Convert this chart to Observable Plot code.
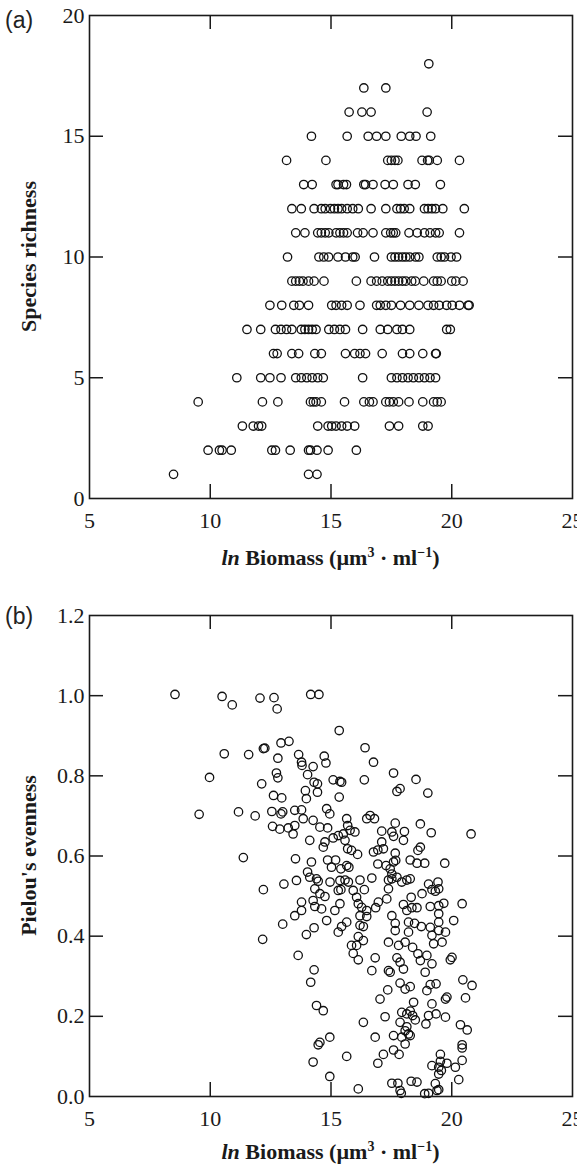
<!DOCTYPE html>
<html><head><meta charset="utf-8">
<script src="https://cdn.jsdelivr.net/npm/d3@7"></script>
<script src="https://cdn.jsdelivr.net/npm/@observablehq/plot@0.6"></script>
<style>
body{margin:0;background:#fff;}
#chart{width:577px;}
#chart svg{display:block;}
#chart svg text{font-family:'Liberation Serif','Times New Roman',Times,serif;}
#chart svg text.tag{font-family:'Liberation Sans',Arial,sans-serif;}
</style></head><body><div id="chart"></div>
<script>
// ---- ticks ----
const xTicks = [5, 10, 15, 20, 25];
const innerXTicks = [10, 15, 20];
const richnessTicks = [0, 5, 10, 15, 20];
const innerRichnessTicks = [5, 10, 15];
const evennessTicks = [0, 0.2, 0.4, 0.6, 0.8, 1.0, 1.2];
const innerEvennessTicks = [0.2, 0.4, 0.6, 0.8, 1.0];

// ---- panel (a): species richness vs ln biomass ----
const richnessRows = [
  {richness: 18, biomass: [19.05]},
  {richness: 17, biomass: [16.36, 17.27]},
  {richness: 16, biomass: [15.75, 16.28, 16.66, 18.98]},
  {richness: 15, biomass: [14.19, 15.67, 16.54, 16.89, 17.27, 17.91, 18.26, 18.52, 19.13]},
  {richness: 14, biomass: [13.16, 14.79, 17.35, 17.5, 17.65, 17.77, 18.77, 19.0, 19.07, 19.4, 20.32]},
  {richness: 13, biomass: [13.87, 14.22, 15.21, 15.29, 15.52, 15.64, 16.36, 16.43, 16.74, 17.24, 17.58, 18.19, 18.49, 19.53]},
  {richness: 12, biomass: [13.38, 13.77, 14.3, 14.6, 14.76, 14.98, 15.14, 15.29, 15.44, 15.67, 15.9, 16.13, 16.66, 17.27, 17.73, 17.88, 18.03, 18.26, 18.87, 19.02, 19.18, 19.33, 19.63, 20.52]},
  {richness: 11, biomass: [13.54, 13.92, 14.45, 14.6, 14.76, 14.91, 15.21, 15.37, 15.52, 15.67, 16.1, 16.33, 16.74, 17.27, 17.47, 17.58, 17.68, 18.23, 18.57, 18.87, 19.1, 19.33, 19.48, 20.32]},
  {richness: 10, biomass: [13.2, 14.5, 14.7, 14.9, 15.29, 15.6, 15.9, 16.0, 16.8, 17.5, 17.65, 17.8, 17.96, 18.1, 18.26, 18.5, 18.64, 19.4, 19.56, 19.7, 19.97, 20.2]},
  {richness: 9, biomass: [13.38, 13.54, 13.69, 13.84, 14.07, 14.3, 14.71, 16.05, 16.66, 16.89, 17.12, 17.35, 17.5, 17.65, 17.8, 17.96, 18.1, 18.34, 18.49, 18.84, 19.25, 19.4, 19.56, 20.0, 20.17, 20.47]},
  {richness: 8, biomass: [12.47, 12.96, 13.46, 13.69, 14.07, 15.03, 15.21, 15.44, 15.67, 16.2, 16.89, 17.04, 17.27, 17.5, 17.88, 18.26, 18.64, 19.02, 19.25, 19.48, 19.79, 20.02, 20.32, 20.68, 20.72]},
  {richness: 7, biomass: [11.52, 12.09, 12.7, 12.93, 13.16, 13.38, 13.77, 13.92, 14.07, 14.22, 14.38, 14.91, 15.14, 15.37, 15.6, 16.31, 17.04, 17.35, 17.73, 17.96, 18.26, 19.79, 19.94]},
  {richness: 6, biomass: [12.62, 12.77, 13.38, 13.66, 14.33, 14.6, 15.6, 15.98, 16.2, 16.43, 17.12, 17.96, 18.26, 18.8, 19.33, 19.36]},
  {richness: 5, biomass: [11.1, 12.09, 12.47, 12.93, 13.54, 13.77, 14.0, 14.22, 14.45, 14.68, 16.31, 17.5, 17.73, 17.96, 18.19, 18.41, 18.64, 18.87, 19.1, 19.33]},
  {richness: 4, biomass: [9.5, 12.16, 12.8, 14.15, 14.27, 14.38, 14.6, 15.56, 16.36, 16.59, 16.74, 17.27, 17.42, 17.58, 17.8, 18.23, 18.8, 19.25, 19.4, 19.56]},
  {richness: 3, biomass: [11.33, 11.78, 12.0, 12.13, 14.45, 14.88, 15.03, 15.21, 15.44, 15.67, 15.98, 17.42, 17.8, 18.8, 19.02]},
  {richness: 2, biomass: [9.91, 10.38, 10.49, 10.87, 12.55, 12.7, 13.31, 14.07, 14.15, 14.42, 14.88, 16.05]},
  {richness: 1, biomass: [8.48, 14.07, 14.42]}
];

// ---- panel (b): Pielou's evenness vs ln biomass, [biomass, evenness] ----
const evennessPoints = [
  [8.54,1.003],[10.49,0.998],[10.91,0.977],[12.06,0.994],[12.64,0.995],[12.77,0.967],[13.26,0.886],[12.93,0.882],
  [12.2,0.868],[12.26,0.869],[10.58,0.855],[11.59,0.853],[12.8,0.844],[9.97,0.796],[12.74,0.807],[12.8,0.795],
  [12.13,0.78],[12.62,0.751],[12.96,0.745],[9.54,0.704],[11.17,0.71],[11.86,0.7],[12.55,0.711],[13.0,0.71],
  [12.93,0.705],[12.58,0.674],[12.88,0.667],[13.23,0.67],
  [11.37,0.596],[12.2,0.516],[12.17,0.392],[13.05,0.53],[13.0,0.43],
  [14.16,1.003],[14.5,1.003],[15.34,0.913],[13.66,0.853],[13.78,0.834],[13.8,0.826],[14.26,0.823],[14.72,0.849],
  [14.79,0.832],[16.41,0.87],[16.76,0.834],[14.03,0.803],[14.3,0.784],[14.44,0.78],[15.09,0.79],[15.37,0.786],
  [15.44,0.784],[16.38,0.79],[17.59,0.807],[18.52,0.791],[17.73,0.761],[17.86,0.768],[19.01,0.757],[13.94,0.763],
  [13.98,0.743],[14.44,0.759],[15.34,0.747],
  [13.5,0.714],[13.78,0.715],[14.82,0.718],[14.95,0.705],[15.65,0.693],[16.48,0.693],[16.62,0.701],[16.8,0.693],
  [17.66,0.682],[18.7,0.68],[19.15,0.658],[20.8,0.655],[13.5,0.676],[13.85,0.693],[14.26,0.689],[14.54,0.672],
  [14.86,0.67],[15.69,0.676],[15.79,0.664],[15.99,0.66],[17.1,0.662],[17.52,0.66],[17.59,0.649],[18.04,0.661],
  [18.0,0.639],[13.43,0.655],[14.12,0.639],[14.75,0.635],[14.68,0.622],[15.09,0.645],[15.3,0.651],[15.51,0.655],
  [15.58,0.639],[15.69,0.618],[15.85,0.614],[16.1,0.604],[16.76,0.61],[16.94,0.615],[17.1,0.635],[17.17,0.618],
  [17.66,0.607],[18.6,0.614],[18.7,0.622],[18.28,0.59],[18.56,0.582],[18.88,0.582],[19.71,0.582],[13.53,0.593],
  [14.19,0.585],[14.86,0.59],[15.19,0.59],[15.02,0.572],[15.41,0.568],[15.65,0.576],[15.74,0.572],[16.94,0.58],
  [17.28,0.576],[17.45,0.568],[17.52,0.555],[17.59,0.585],[17.68,0.589],[17.73,0.547],[13.57,0.539],[14.03,0.56],
  [14.12,0.547],[14.4,0.543],[14.47,0.537],[14.96,0.535],[15.37,0.539],[15.58,0.54],[15.72,0.535],[16.2,0.54],
  [16.69,0.545],[16.38,0.516],[17.38,0.54],[17.52,0.543],[17.93,0.535],[18.14,0.54],[18.28,0.543],[19.04,0.53],
  [19.43,0.535],[19.18,0.516],[19.32,0.512],[19.46,0.518],[18.77,0.506],[18.32,0.497],[17.38,0.518],[17.31,0.493],
  [16.96,0.485],[14.33,0.518],[14.54,0.506],[14.75,0.499],[15.3,0.514],[15.41,0.516],[15.92,0.514],[16.06,0.497],
  [16.13,0.481],[16.27,0.472],[16.48,0.464],[13.78,0.485],[13.78,0.464],[14.26,0.489],[14.33,0.474],[14.61,0.468],
  [15.16,0.464],[15.37,0.481],[16.2,0.451],[16.48,0.449],[16.85,0.471],[17.52,0.451],[18.0,0.479],[18.14,0.464],
  [18.35,0.471],[18.56,0.471],[19.11,0.474],[19.46,0.476],[19.67,0.482],[20.43,0.481],[19.46,0.456],[13.5,0.451],
  [13.64,0.352],[13.98,0.404],[14.3,0.421],[14.3,0.316],[14.16,0.285],[14.82,0.439],[15.3,0.41],[15.44,0.424],
  [15.65,0.435],[15.85,0.377],[15.92,0.357],[16.06,0.377],[16.13,0.399],[16.2,0.427],[16.34,0.424],[16.34,0.389],
  [16.13,0.341],[16.69,0.314],[16.83,0.346],[17.38,0.385],[17.66,0.414],[17.66,0.432],[17.8,0.377],[18.07,0.385],
  [18.21,0.41],[18.21,0.435],[18.38,0.372],[18.46,0.432],[18.6,0.356],[18.7,0.339],[18.74,0.424],[18.97,0.352],
  [19.11,0.422],[19.18,0.402],[19.18,0.331],[19.25,0.381],[19.46,0.414],[19.46,0.435],[19.6,0.385],[19.74,0.41],
  [19.94,0.341],[20.01,0.347],[20.08,0.439],[18.9,0.31],[17.38,0.314],[17.45,0.31],[17.73,0.346],[17.86,0.335],
  [18.0,0.318],[17.86,0.283],[18.07,0.268],[18.28,0.274],[17.35,0.266],[17.03,0.243],[18.97,0.264],[19.11,0.279],
  [19.35,0.281],[20.46,0.291],[20.84,0.277],[20.57,0.246],[19.74,0.243],[19.8,0.248],[19.18,0.231],[18.42,0.235],
  [17.93,0.21],[18.14,0.206],[18.28,0.213],[18.38,0.202],[18.49,0.191],[19.04,0.202],[19.35,0.206],[19.74,0.198],
  [17.24,0.199],[16.34,0.185],[17.86,0.185],[18.14,0.174],[18.07,0.164],[18.21,0.156],[18.28,0.152],[17.93,0.148],
  [17.59,0.152],[16.83,0.148],[18.93,0.181],[20.36,0.179],[20.64,0.166],[14.4,0.227],[14.68,0.214],[14.95,0.148],
  [14.54,0.135],[14.47,0.129],[20.43,0.129],
  [14.26,0.086],[15.65,0.1],[14.95,0.05],[16.13,0.019],[16.94,0.083],[17.17,0.105],[17.59,0.116],[17.82,0.105],
  [18.07,0.131],[17.52,0.033],[17.77,0.033],[17.86,0.015],[17.91,0.008],[18.32,0.038],[18.56,0.036],[18.88,0.007],
  [19.04,0.008],[19.32,0.032],[19.46,0.017],[19.39,0.015],[19.18,0.077],[19.53,0.105],[19.53,0.088],[19.46,0.073],
  [19.57,0.065],[19.46,0.056],[19.8,0.083],[20.15,0.073],[20.43,0.09],[20.29,0.042],[20.43,0.121]
];

const W = 577;
const INK = "#1a1a1a";
const SERIF = "'Liberation Serif','Times New Roman',Times,serif";

function buildPanel(o) {
  const ml = 89, mr = 5;
  const plotW = W - ml - mr, plotH = o.h - o.mt - o.mb;
  const tl = 14;
  const svg = Plot.plot({
    width: W, height: o.h,
    marginLeft: ml, marginRight: mr, marginTop: o.mt, marginBottom: o.mb,
    style: {fontSize: "22px", color: INK, background: "white", overflow: "visible"},
    x: {domain: [5, 25]},
    y: {domain: o.yDomain},
    marks: [
      Plot.dot(o.points, {x: "b", y: "v", r: 4.2, stroke: "#111", strokeWidth: 1.3, fill: "none"}),
      Plot.tickX(innerXTicks, {x: d => d, insetTop: plotH - tl, stroke: INK, strokeWidth: 1.5}),
      Plot.tickX(innerXTicks, {x: d => d, insetBottom: plotH - tl, stroke: INK, strokeWidth: 1.5}),
      Plot.tickY(o.yInner, {y: d => d, insetRight: plotW - tl, stroke: INK, strokeWidth: 1.5}),
      Plot.tickY(o.yInner, {y: d => d, insetLeft: plotW - tl, stroke: INK, strokeWidth: 1.5}),
      Plot.frame({stroke: INK, strokeWidth: 1.6}),
      Plot.axisX(xTicks, {tickSize: 0, tickPadding: 14, label: null, fill: INK, fontSize: 22}),
      Plot.axisY(o.yTicks, {tickSize: 0, tickPadding: 5, tickFormat: o.yFormat, label: null, fill: INK, fontSize: 22})
    ]
  });
  const s = d3.select(svg);
  // force serif on all axis texts
  s.selectAll("text").style("font-family", SERIF).style("font-variant", "normal");
  // x axis title
  const xt = s.append("text")
    .attr("x", ml + plotW / 2).attr("y", o.titleY)
    .attr("text-anchor", "middle").attr("font-weight", "bold")
    .attr("font-size", 22).style("font-family", SERIF).attr("fill", INK);
  xt.append("tspan").attr("font-style", "italic").text("ln");
  xt.append("tspan").text(" Biomass (µm");
  xt.append("tspan").attr("font-size", 14).attr("dy", -8).text("3");
  xt.append("tspan").attr("dy", 8).text(" · ml");
  xt.append("tspan").attr("font-size", 14).attr("dy", -8).text("−1");
  xt.append("tspan").attr("dy", 8).text(")");
  // y axis title
  s.append("text")
    .attr("transform", `translate(28,${o.mt + plotH / 2}) rotate(-90)`)
    .attr("text-anchor", "middle").attr("dominant-baseline", "central")
    .attr("font-weight", "bold").attr("font-size", 22).style("font-family", SERIF).attr("fill", INK)
    .text(o.yTitle);
  // panel tag
  s.append("text").attr("class", "tag")
    .attr("x", 5).attr("y", o.tagY).attr("text-anchor", "start")
    .attr("font-size", 23).attr("fill", "#222")
    .text(o.tag);
  return svg;
}

const pointsA = richnessRows.flatMap(r => r.biomass.map(b => ({b, v: r.richness})));
const pointsB = evennessPoints.map(([b, v]) => ({b, v}));

const chart = document.getElementById("chart");
chart.appendChild(buildPanel({
  points: pointsA, yDomain: [0, 20], yTicks: richnessTicks, yInner: innerRichnessTicks,
  yFormat: d => String(d), mt: 15, mb: 85, h: 583,
  yTitle: "Species richness", tag: "(a)", tagY: 28, titleY: 565
}));
chart.appendChild(buildPanel({
  points: pointsB, yDomain: [0, 1.2], yTicks: evennessTicks, yInner: innerEvennessTicks,
  yFormat: d => d.toFixed(1), mt: 32, mb: 70, h: 583,
  yTitle: "Pielou's evenness", tag: "(b)", tagY: 41, titleY: 576
}));
</script>
</body></html>
